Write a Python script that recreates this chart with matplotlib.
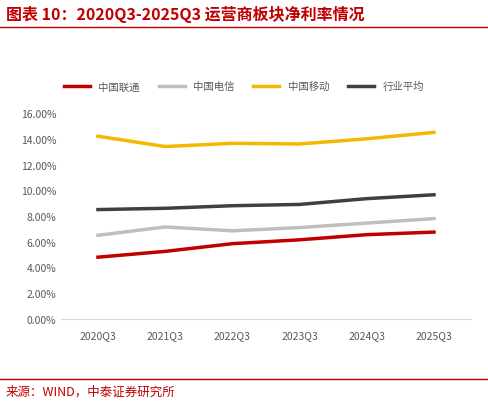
import matplotlib.pyplot as plt
from matplotlib.ticker import PercentFormatter

plt.rcParams['font.family'] = ['Noto Sans CJK SC', 'DejaVu Sans']

quarters = ["2020Q3", "2021Q3", "2022Q3", "2023Q3", "2024Q3", "2025Q3"]
unicom = [4.8, 5.25, 5.85, 6.15, 6.55, 6.75]
telecom = [6.5, 7.15, 6.85, 7.1, 7.45, 7.8]
mobile = [14.2, 13.4, 13.65, 13.6, 14.0, 14.5]
average = [8.5, 8.6, 8.8, 8.9, 9.35, 9.65]

fig = plt.figure(figsize=(4.88, 4.06), dpi=100)
ax = fig.add_axes([0.125, 0.212, 0.84, 0.507])

ax.plot(quarters, unicom, color="#c00000", lw=2.5, label="中国联通")
ax.plot(quarters, telecom, color="#bfbfbf", lw=2.5, label="中国电信")
ax.plot(quarters, mobile, color="#f5b800", lw=2.5, label="中国移动")
ax.plot(quarters, average, color="#404040", lw=2.5, label="行业平均")

ax.set_ylim(0, 16)
ax.set_yticks(range(0, 17, 2))
ax.yaxis.set_major_formatter(PercentFormatter(decimals=2))
ax.set_xlim(-0.55, 5.55)
for s in ["top", "right", "left"]:
    ax.spines[s].set_visible(False)
ax.spines["bottom"].set_color("#d9d9d9")
ax.tick_params(length=0, labelsize=7.5, colors="#595959")
ax.tick_params(axis="x", pad=8)

fig.legend(loc="center", bbox_to_anchor=(0.5, 0.785), ncol=4, frameon=False,
           fontsize=7.5, labelcolor="#595959", handlelength=2.5, columnspacing=1.8)

fig.text(0.012, 0.965, "图表 10：2020Q3-2025Q3 运营商板块净利率情况", color="#c00000",
         fontsize=11.5, fontweight="bold", fontstyle="italic", va="center")
fig.add_artist(plt.Line2D([0.0, 1.0], [0.93, 0.93], color="#c00000", lw=1))
fig.add_artist(plt.Line2D([0.0, 1.0], [0.063, 0.063], color="#c00000", lw=1))
fig.text(0.012, 0.035, "来源：WIND，中泰证券研究所", color="#c00000", fontsize=9, va="center")

fig.savefig("out.png", dpi=100)
